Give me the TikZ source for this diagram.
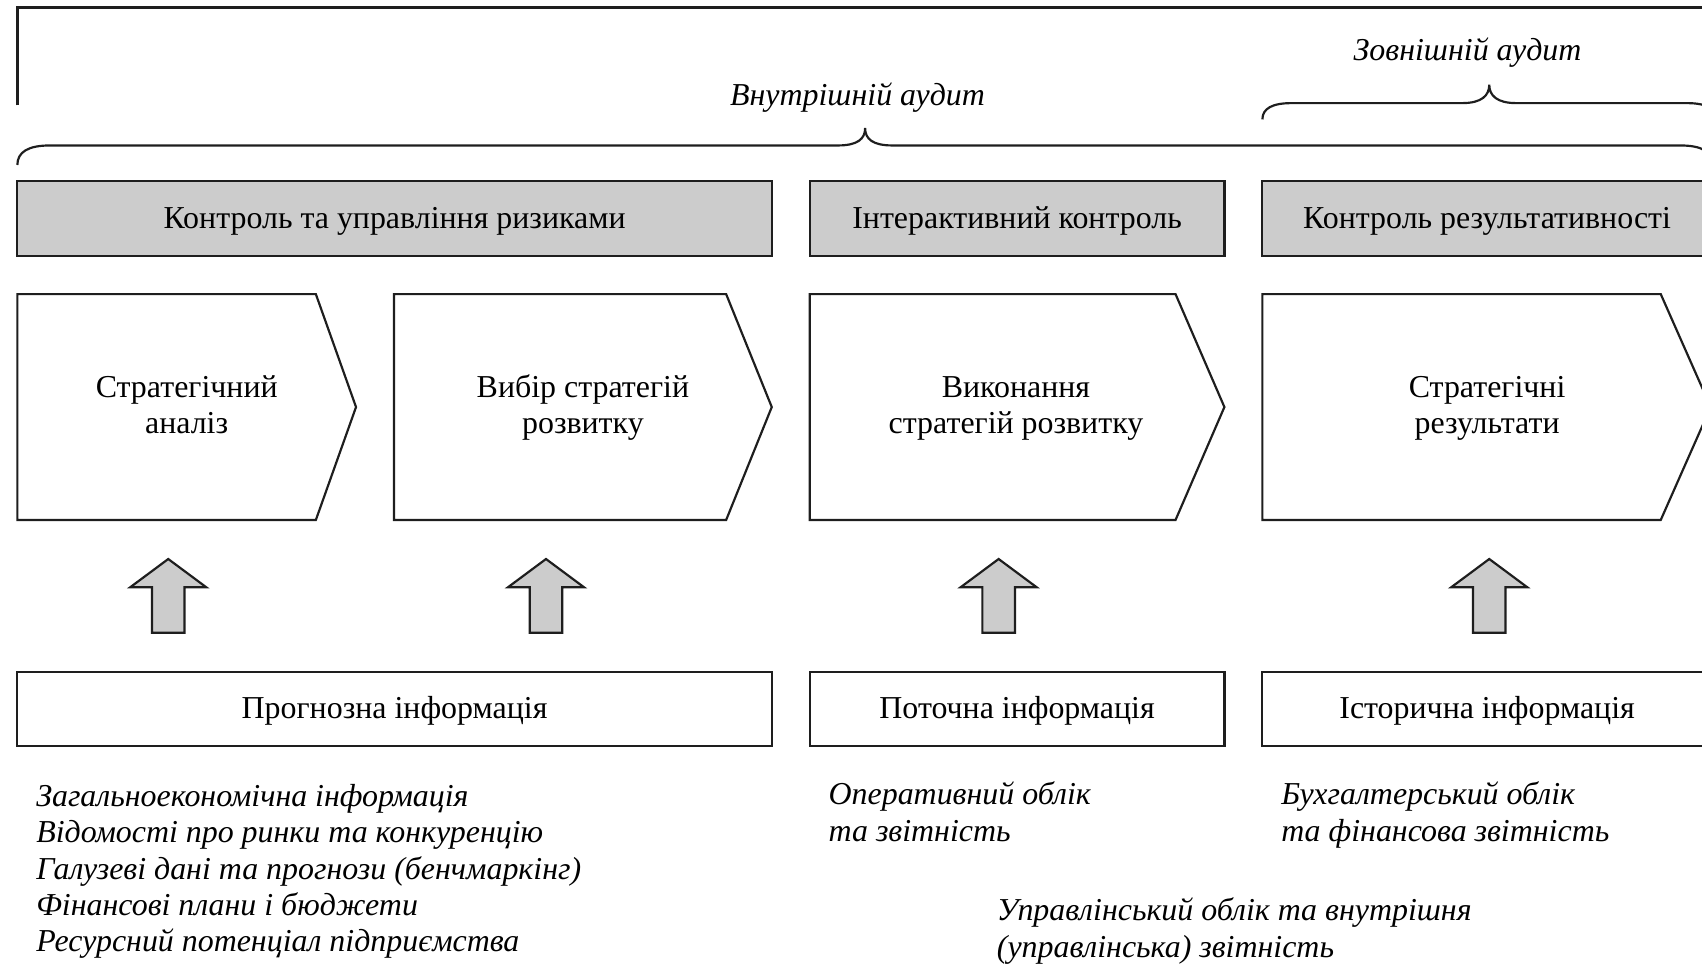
\documentclass[tikz,border=0pt]{standalone}
\usepackage{fontspec}
\setmainfont{Liberation Serif}
\definecolor{boxgray}{RGB}{204,204,204}
\definecolor{linec}{RGB}{30,30,30}
\newcommand\boxfont{\fontsize{14.7}{16.6}\selectfont}
\newcommand\notefont{\fontsize{14.7}{16.6}\selectfont\itshape}
% fixed line height (12.6pt) and depth (3.4pt), so every label sits the same way in its box
\newcommand\strutline[1]{\rule[-3.4pt]{0pt}{16pt}#1}
\begin{document}
\begin{tikzpicture}[x=0.5pt,y=-0.5pt,
  line/.style={draw=linec, line width=1pt},
  graybox/.style={line, fill=boxgray, inner sep=0pt, font=\boxfont},
  infobox/.style={line, fill=white, inner sep=0pt, font=\boxfont},
  chevtext/.style={align=center, font=\boxfont, inner sep=0pt},
  note/.style={anchor=base west, font=\notefont, inner sep=0pt},
  bracelabel/.style={anchor=base, font=\notefont, inner sep=0pt},
  blockarrow/.style={line, fill=boxgray, line join=miter},
]
\useasboundingbox (0,0) rectangle (1568,888);
\clip (0,0) rectangle (1568,888);

% outer frame
\draw[line, line width=1.3pt] (16,97) -- (16,7) -- (1580,7);

% brace: internal audit
\draw[line] (16,152) .. controls (16,140) and (26,134) .. (46,134)
  -- (772,134) .. controls (790,134) and (797,128) .. (797,118)
  .. controls (797,128) and (804,134) .. (822,134)
  -- (1548,134) .. controls (1568,134) and (1578,140) .. (1578,152);
\node[bracelabel] (intaudit) at (790,97.5) {Внутрішній аудит};

% brace: external audit
\draw[line] (1163,110) .. controls (1163,100) and (1172,95) .. (1190,95)
  -- (1347,95) .. controls (1365,95) and (1372,88) .. (1372,78)
  .. controls (1372,88) and (1379,95) .. (1397,95)
  -- (1554,95) .. controls (1572,95) and (1581,100) .. (1581,110);
\node[bracelabel] (extaudit) at (1352,55.3) {Зовнішній аудит};

% control layer
\node[graybox, minimum width=347.5pt, minimum height=34.5pt] (ctrl1) at (363.5,201.5) {\strutline{Контроль та управління ризиками}};
\node[graybox, minimum width=191pt, minimum height=34.5pt] (ctrl2) at (937,201.5) {\strutline{Інтерактивний контроль}};
\node[graybox, minimum width=207pt, minimum height=34.5pt] (ctrl3) at (1370,201.5) {\strutline{Контроль результативності}};

% process chevrons
\draw[line, fill=white, line join=miter] (16,271) -- (291,271) -- (328,375) -- (291,479) -- (16,479) -- cycle;
\draw[line, fill=white, line join=miter] (363,271) -- (669,271) -- (711,375) -- (669,479) -- (363,479) -- cycle;
\draw[line, fill=white, line join=miter] (746,271) -- (1083,271) -- (1128,375) -- (1083,479) -- (746,479) -- cycle;
\draw[line, fill=white, line join=miter] (1163,271) -- (1530,271) -- (1576,375) -- (1530,479) -- (1163,479) -- cycle;
\node[chevtext] (step1) at (172,373.2) {\strutline{Стратегічний}\\\strutline{аналіз}};
\node[chevtext] (step2) at (537,373.2) {\strutline{Вибір стратегій}\\\strutline{розвитку}};
\node[chevtext] (step3) at (936,373.2) {\strutline{Виконання}\\\strutline{стратегій розвитку}};
\node[chevtext] (step4) at (1370,373.2) {\strutline{Стратегічні}\\\strutline{результати}};

% block arrows from information to process
\foreach \cx in {155,503,920,1372}{
  \draw[blockarrow] (\cx-15,583) -- (\cx-15,541) -- (\cx-35,541) -- (\cx,515)
    -- (\cx+35,541) -- (\cx+15,541) -- (\cx+15,583) -- cycle;
}

% information layer
\node[infobox, minimum width=347.5pt, minimum height=34pt] (info1) at (363.5,653) {\strutline{Прогнозна інформація}};
\node[infobox, minimum width=191pt, minimum height=34pt] (info2) at (937,653) {\strutline{Поточна інформація}};
\node[infobox, minimum width=207pt, minimum height=34pt] (info3) at (1370,653) {\strutline{Історична інформація}};

% sources of information
\node[note] (src1) at (33,743) {Загальноекономічна інформація};
\node[note] (src2) at (33,776) {Відомості про ринки та конкуренцію};
\node[note] (src3) at (33,810) {Галузеві дані та прогнози (бенчмаркінг)};
\node[note] (src4) at (33,843) {Фінансові плани і бюджети};
\node[note] (src5) at (33,877) {Ресурсний потенціал підприємства};

\node[note] (op1) at (763,741.5) {Оперативний облік};
\node[note] (op2) at (763,775.5) {та звітність};

\node[note] (acc1) at (1180,741.5) {Бухгалтерський облік};
\node[note] (acc2) at (1180,775.5) {та фінансова звітність};

\node[note] (mgmt1) at (918,848) {Управлінський облік та внутрішня};
\node[note] (mgmt2) at (918,882) {(управлінська) звітність};
\end{tikzpicture}
\end{document}
